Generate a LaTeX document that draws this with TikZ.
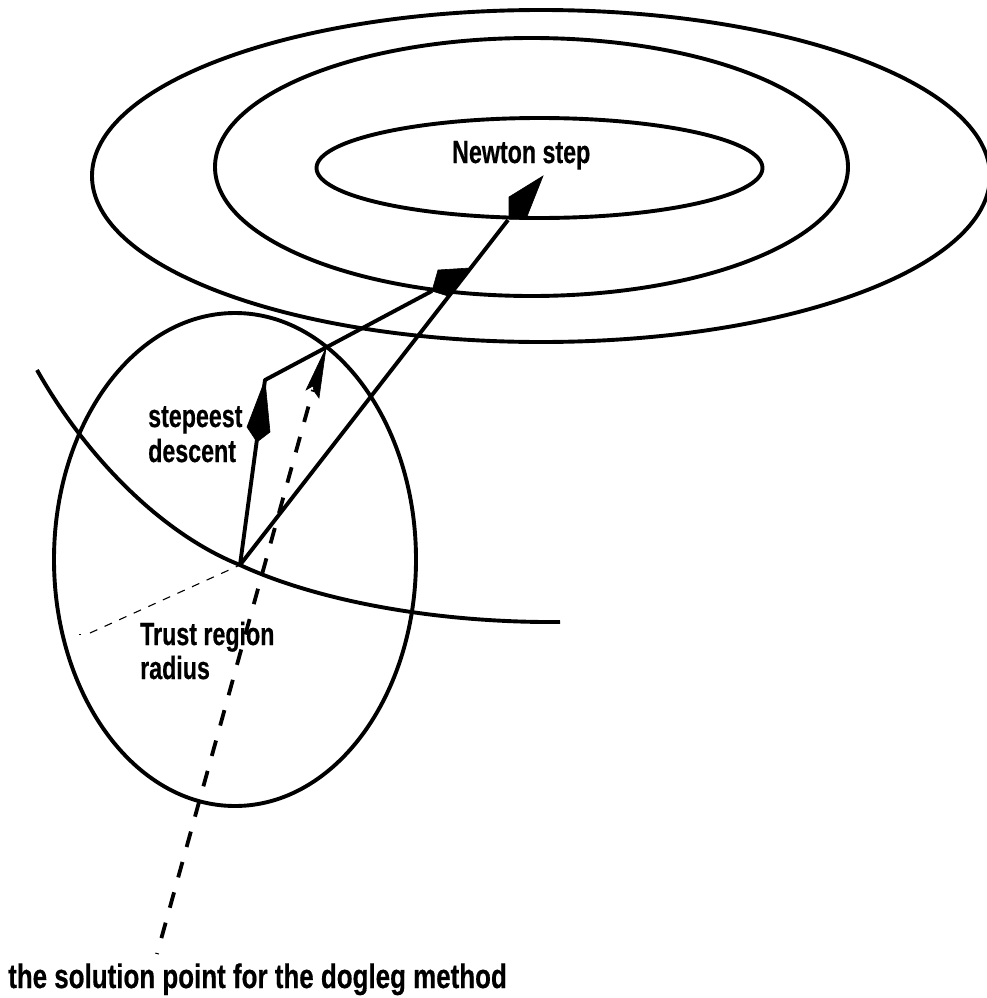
\documentclass[tikz,border=0pt]{standalone}
\usepackage{fontspec}
\setmainfont[BoldFeatures={FakeBold=0.6}]{Liberation Sans}
\newcommand{\lbl}[1]{\scalebox{.726}[1]{#1}}
\newcommand{\lblb}[1]{\scalebox{.763}[1]{#1}}
\tikzset{
  curve/.style={line width=3.9pt,line join=round},
  head/.style={fill=black,draw=black,line width=.6pt,line join=miter},
  lab/.style={font=\fontsize{32}{38}\selectfont\bfseries,anchor=base west,inner sep=0pt},
  labb/.style={font=\fontsize{34}{40}\selectfont\bfseries,anchor=base west,inner sep=0pt},
  mainDash/.style={line width=3.8pt,dash pattern=on 16pt off 15.5pt,dash phase=15pt},
  thinDash/.style={line width=1.1pt,dash pattern=on 8pt off 8pt}
}
\begin{document}
\begin{tikzpicture}[x=1pt,y=-1pt]
\useasboundingbox (0,0) rectangle (987,998);
\clip (0,0) rectangle (987,998);
\coordinate (start) at (240,565);
\coordinate (kink) at (265,380);
\coordinate (cauchy) at (432,291);
\coordinate (newton) at (508,220);
\coordinate (sol) at (157,954);
\coordinate (dashend) at (313,390);
\coordinate (dogleg) at (326,348);
\coordinate (rad) at (90,633);
\coordinate (speckA) at (79,634);
\coordinate (speckB) at (81,634);
\draw[curve] (541,176) ellipse [x radius=449,y radius=166];
\draw[curve] (531.5,167) ellipse [x radius=316.5,y radius=129];
\draw[curve] (539.5,168) ellipse [x radius=223,y radius=50];
\draw[curve] (235,559.5) ellipse [x radius=181,y radius=246.5];
\draw[curve] (37,370) .. controls (85,455) and (160,533) .. (start) .. controls (320,602) and (440,623) .. (560,622);
\draw[curve] (start) -- (kink) -- (cauchy);
\draw[curve] (start) -- (newton);
\fill[head] (kink) -- (247,427) -- (257,442) -- (270,432) -- cycle;
\fill[head] (cauchy) -- (438,270) -- (470,268) -- (448,296) -- cycle;
\fill[head] (509,197) -- (543,176) -- (526,219) -- (509,219) -- cycle;
\draw[mainDash] (sol) -- (dashend);
\fill[head] (dogleg) -- (306,390) -- (313,386) -- (314,391) -- (319,398) -- cycle;
\draw[thinDash] (rad) -- (start);
\draw[line width=1pt] (speckA) -- (speckB);
\node[lab] (n1) at (452,163) {\lbl{Newton step}};
\node[lab] (n2) at (148,427) {\lbl{stepeest}};
\node[lab] (n3) at (148,462) {\lbl{descent}};
\node[lab] (n4) at (140,645) {\lbl{Trust region}};
\node[lab] (n5) at (140,679) {\lbl{radius}};
\node[labb] (n6) at (8,988) {\lblb{the solution point for the dogleg method}};
\end{tikzpicture}
\end{document}
